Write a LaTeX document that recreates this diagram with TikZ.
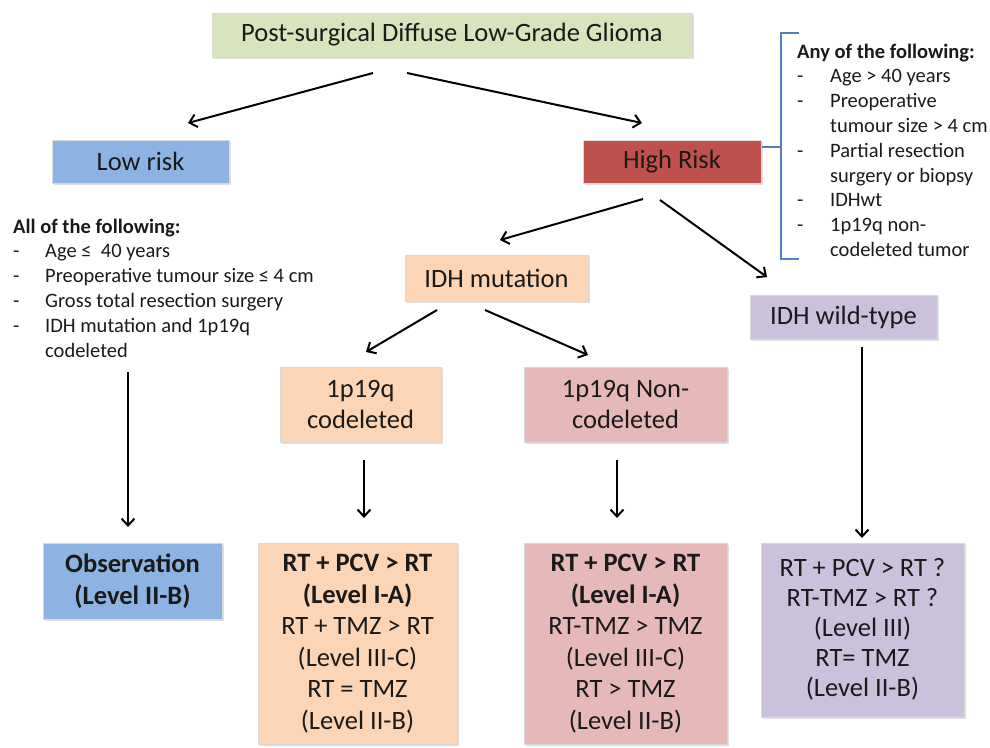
\documentclass[tikz,border=0pt]{standalone}
\usepackage{fontspec}
\setmainfont{Carlito}
\usetikzlibrary{arrows.meta,shadows}
\definecolor{cgreen}{HTML}{D7E4BD}
\definecolor{cblue}{HTML}{8DB3E2}
\definecolor{cred}{HTML}{C0504D}
\definecolor{corange}{HTML}{FBD5B5}
\definecolor{cpink}{HTML}{E6B9B8}
\definecolor{cpurple}{HTML}{CCC1DA}
\definecolor{cbracket}{HTML}{4F81BD}
\definecolor{ctext}{HTML}{1A1A1A}
\tikzset{
  box/.style={draw=black!15, line width=1pt, inner sep=0pt, align=center, text=ctext,
    drop shadow={opacity=0.25, shadow xshift=1.5pt, shadow yshift=-1.5pt}},
  hfont/.style={font=\fontsize{26.5}{30}\selectfont},
  bfont/.style={font=\fontsize{26.5}{31.5}\selectfont},
  listtext/.style={inner sep=0pt, text=ctext, font=\fontsize{20.5}{24.8}\selectfont},
  arr/.style={line width=2pt, -{Straight Barb[length=7pt,width=13pt,line width=2pt]}},
}
\begin{document}
\begin{tikzpicture}[x=1pt,y=-1pt]
\useasboundingbox (0,0) rectangle (990,747);
% boxes
\node[box, hfont, fill=cgreen, minimum width=480pt, minimum height=44pt] (title) at (452,35) {Post-surgical Diffuse Low-Grade Glioma};
\node[box, hfont, fill=cblue, minimum width=177pt, minimum height=43pt] (low) at (140.5,161.5) {Low risk};
\node[box, hfont, fill=cred, minimum width=178pt, minimum height=43pt] (high) at (672,161.5) {High Risk};
\node[box, hfont, fill=corange, minimum width=183pt, minimum height=46pt] (idhm) at (496.5,278) {IDH mutation};
\node[box, hfont, fill=cpurple, minimum width=187pt, minimum height=44pt] (idhwt) at (843.5,317) {IDH wild-type};
\node[box, bfont, fill=corange, minimum width=161pt, minimum height=75pt] (cod) at (360.5,404.5) {1p19q\\codeleted};
\node[box, bfont, fill=cpink, minimum width=203pt, minimum height=75pt] (noncod) at (625.5,404.5) {1p19q Non-\\codeleted};
\node[box, bfont, fill=cblue, minimum width=179pt, minimum height=76pt] (obs) at (132.5,581) {\bfseries Observation\\\bfseries (Level II-B)};
\node[box, bfont, fill=corange, minimum width=199pt, minimum height=201pt] (codres) at (357.5,643.5)
  {\bfseries RT + PCV > RT\\\bfseries (Level I-A)\\RT + TMZ > RT\\(Level III-C)\\RT = TMZ\\(Level II-B)};
\node[box, bfont, fill=cpink, minimum width=203pt, minimum height=201pt] (noncodres) at (625.5,643.5)
  {\bfseries RT + PCV > RT\\\bfseries (Level I-A)\\RT-TMZ > TMZ\\(Level III-C)\\RT > TMZ\\(Level II-B)};
\node[box, font=\fontsize{26.5}{30}\selectfont, fill=cpurple, minimum width=203pt, minimum height=174pt] (wtres) at (862.5,630)
  {\raisebox{-3pt}{\begin{tabular}{@{}c@{}}RT + PCV > RT ?\\RT-TMZ > RT ?\\(Level III)\\RT= TMZ\\(Level II-B)\end{tabular}}};
% lists
\node[listtext, anchor=north west] (llist) at (13,215.5) {\begin{tabular}{@{}p{32pt}@{}l@{}}
\multicolumn{2}{@{}l@{}}{\bfseries All of the following:}\\
- & Age ≤ \ 40 years\\
- & Preoperative tumour size ≤ 4 cm\\
- & Gross total resection surgery\\
- & IDH mutation and 1p19q\\
  & codeleted
\end{tabular}};
\node[listtext, anchor=north west] (rlist) at (797,40.5) {\begin{tabular}{@{}p{33pt}@{}l@{}}
\multicolumn{2}{@{}l@{}}{\bfseries Any of the following:}\\
- & Age > 40 years\\
- & Preoperative\\
  & tumour size > 4 cm\\
- & Partial resection\\
  & surgery or biopsy\\
- & IDHwt\\
- & 1p19q non-\\
  & codeleted tumor
\end{tabular}};
% bracket
\coordinate (bt) at (799,33);
\coordinate (bb) at (799,259);
\coordinate (bm) at (781,147);
\draw[cbracket, line width=1.8pt] (bt) -- (781,33) -- (781,259) -- (bb);
\draw[cbracket, line width=1.8pt] (high.east |- bm) -- (bm);
% arrow end points
\coordinate (a1s) at (373,73);  \coordinate (a1e) at (188,123);
\coordinate (a2s) at (407,73);  \coordinate (a2e) at (642,123);
\coordinate (a3s) at (643,199); \coordinate (a3e) at (500,240);
\coordinate (a4s) at (660,200); \coordinate (a4e) at (767,277);
\coordinate (a5s) at (437,310); \coordinate (a5e) at (366,352);
\coordinate (a6s) at (485,310); \coordinate (a6e) at (588,355);
\coordinate (a7s) at (128,372); \coordinate (a7e) at (128,527);
\coordinate (a8s) at (364,460); \coordinate (a8e) at (364,518);
\coordinate (a9s) at (617,460); \coordinate (a9e) at (617,518);
\coordinate (a10s) at (862,347); \coordinate (a10e) at (862,538);
\foreach \i in {1,...,10} \draw[arr] (a\i s) -- (a\i e);
\end{tikzpicture}
\end{document}
